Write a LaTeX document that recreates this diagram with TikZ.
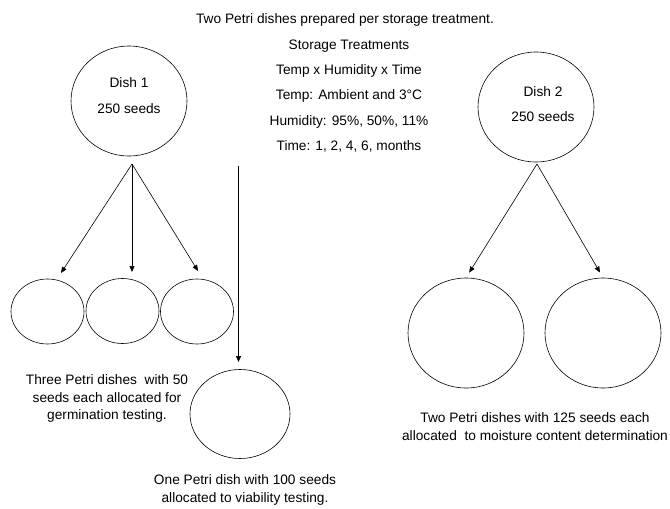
\documentclass[tikz,border=0pt]{standalone}
\usepackage{fontspec}
\setmainfont{Liberation Sans}
\usetikzlibrary{shapes.geometric,positioning,arrows.meta}

\begin{document}
\begin{tikzpicture}[x=1pt,y=-1pt,->,>={Triangle[length=6pt,width=5pt]},line width=0.6pt,
  font=\fontsize{13.7}{17.5}\selectfont]
  \tikzstyle{dish}=[draw,ellipse,inner sep=0pt,minimum width=116pt,minimum height=110pt]
  \tikzstyle{small dish}=[dish,minimum width=73pt,minimum height=65pt]
  \tikzstyle{note}=[align=center,inner sep=0pt]

  \useasboundingbox (0,0) rectangle (670,509);

  \node[note] (title) at (345,20) {Two Petri dishes prepared per storage treatment.};
  \node[note,font=\fontsize{13.7}{25.3}\selectfont] (treat) at (349,96)
    {Storage Treatments\\Temp x Humidity x Time\\Temp: Ambient and 3\textdegree C\\
     Humidity: 95\%, 50\%, 11\%\\Time: 1, 2, 4, 6, months};

  \node[dish] (dish1) at (129,101) {};
  \node[note,font=\fontsize{13.7}{26}\selectfont] (dish1txt) at (129,96) {Dish 1\\250 seeds};
  \node[dish] (dish2) at (536,107) {};
  \node[note,font=\fontsize{13.7}{25}\selectfont] (dish2txt) at (543,104) {Dish 2\\250 seeds};

  \node[small dish] (germ1) at (47.5,311.5) {};
  \node[small dish] (germ2) at (122.5,311) {};
  \node[small dish] (germ3) at (197,311.5) {};
  \node[dish,minimum width=100pt,minimum height=89pt] (via) at (240,414) {};
  \node[dish] (moist1) at (466,333) {};
  \node[dish] (moist2) at (603,333) {};

  \node[note] (germtxt) at (107,398.5)
    {Three Petri dishes~ with 50\\seeds each allocated for\\germination testing.};
  \node[note,font=\fontsize{13.7}{18.5}\selectfont] (viatxt) at (245,490)
    {One Petri dish with 100 seeds\\allocated to viability testing.};
  \node[note,font=\fontsize{13.7}{18}\selectfont] (moisttxt) at (535,427)
    {Two Petri dishes with 125 seeds each\\allocated~ to moisture content determination};

  \coordinate (fork1) at (132,164);
  \coordinate (fork2) at (537,164);
  \coordinate (vtop) at (238.5,166);
  \coordinate (g1end) at (61,273);
  \coordinate (g2end) at (132,272);
  \coordinate (g3end) at (198,271);
  \coordinate (vend) at (238.5,362);

  \draw (fork1) -- (g1end);
  \draw (fork1) -- (g2end);
  \draw (fork1) -- (g3end);
  \draw (vtop) -- (vend);
  \draw[shorten >=6pt] (fork2) -- (moist1.north);
  \draw[shorten >=6pt] (fork2) -- (moist2.north);
\end{tikzpicture}
\end{document}
